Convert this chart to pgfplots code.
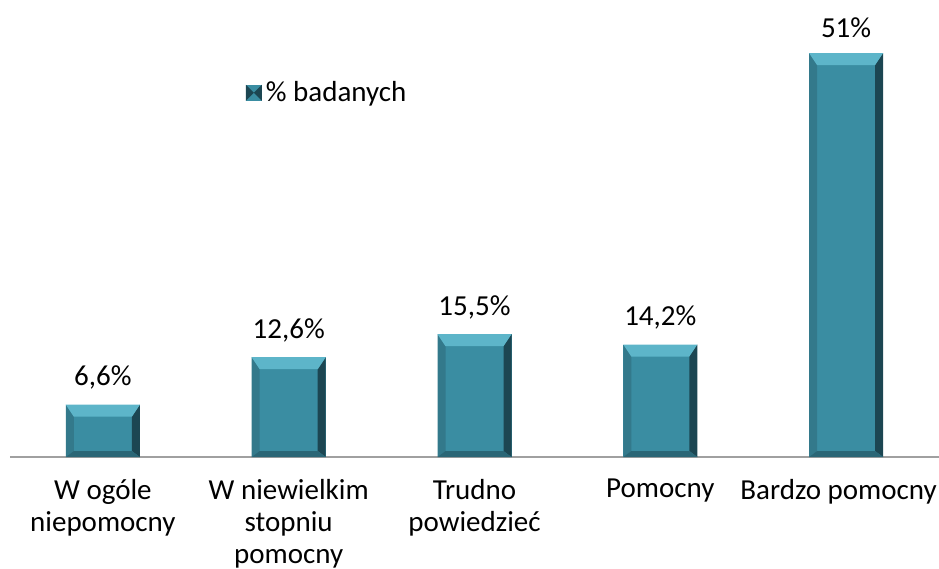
\documentclass[border=0pt]{standalone}
\usepackage{pgfplots}
\pgfplotsset{compat=1.18}
\usepackage{fontspec}
\setmainfont{Carlito}
\definecolor{barmain}{HTML}{3A8DA2}
\definecolor{bartop}{HTML}{5DB5C9}
\definecolor{barleft}{HTML}{33798B}
\definecolor{barright}{HTML}{1C4652}
\definecolor{barbot}{HTML}{2A6676}
\definecolor{axisgray}{HTML}{A0A0A0}
\newcommand\quadfill[9]{%
  \pgfsetfillcolor{#1}%
  \pgfpathmoveto{\pgfpoint{#2}{#3}}%
  \pgfpathlineto{\pgfpoint{#4}{#5}}%
  \pgfpathlineto{\pgfpoint{#6}{#7}}%
  \pgfpathlineto{\pgfpoint{#8}{#9}}%
  \pgfpathclose\pgfusepath{fill}}
\tikzset{
  bevel/.style={path picture={
    \pgfpointanchor{path picture bounding box}{south west}\pgfgetlastxy{\bx}{\by}%
    \pgfpointanchor{path picture bounding box}{north east}\pgfgetlastxy{\ex}{\ey}%
    \quadfill{barleft}{\bx}{\by}{\bx}{\ey}{\bx+4pt}{\ey-6pt}{\bx+4pt}{\by+3pt}%
    \quadfill{barright}{\ex}{\by}{\ex}{\ey}{\ex-4pt}{\ey-6pt}{\ex-4pt}{\by+3pt}%
    \quadfill{bartop}{\bx}{\ey}{\ex}{\ey}{\ex-4pt}{\ey-6pt}{\bx+4pt}{\ey-6pt}%
    \quadfill{barbot}{\bx}{\by}{\ex}{\by}{\ex-4pt}{\by+3pt}{\bx+4pt}{\by+3pt}%
  }},
}
\pgfplotsset{
  mybar/.style={ybar, bar width=37pt, bar shift=0pt, fill=barmain, draw=none, bevel, forget plot},
}
\begin{document}
\begin{tikzpicture}[font=\fontsize{14.5}{16}\selectfont]
\begin{axis}[
  width=464.5pt, height=228.5pt, scale only axis,
  xmin=-0.5, xmax=4.5, ymin=0, ymax=57.7,
  axis x line*=bottom, axis y line=none,
  x axis line style={draw=axisgray, line width=1pt, -},
  xtick={0,1,2,3,4},
  xticklabels={{W ogóle\\niepomocny},{W niewielkim\\stopniu\\pomocny},{Trudno\\powiedzieć},{Pomocny},{\hspace*{-7.5pt}Bardzo pomocny}},
  xticklabel style={align=center, yshift=-7.5pt, text=black},
  major tick length=0pt,
  ytick=\empty,
  clip=false,
  /pgf/number format/assume math mode=true,
  legend style={at={(0.2535,0.797)}, anchor=west, draw=none, fill=none, inner sep=0pt,
    nodes={inner sep=2pt, text=black}},
  legend cell align=left,
]
\addlegendimage{legend image code/.code={
    \quadfill{barmain}{0pt}{-4pt}{0pt}{4pt}{8pt}{4pt}{8pt}{-4pt}%
    \quadfill{barright}{0pt}{-4pt}{4pt}{0pt}{0pt}{4pt}{0pt}{-4pt}%
    \quadfill{barright}{8pt}{-4pt}{4pt}{0pt}{8pt}{4pt}{8pt}{-4pt}%
  }}
\addlegendentry{\% badanych}
\addplot[mybar] coordinates {(0,6.6)};
\addplot[mybar] coordinates {(1,12.6)};
\addplot[mybar] coordinates {(2,15.5)};
\addplot[mybar] coordinates {(3,14.2)};
\addplot[mybar] coordinates {(4,51)};
\addplot[only marks, mark=none, forget plot,
  nodes near coords={\pgfmathprintnumber[fixed,precision=1,use comma,assume math mode=true]{\pgfplotspointmeta}\%},
  every node near coord/.append style={yshift=4pt, text=black}]
  coordinates {(0,6.6) (1,12.6) (2,15.5) (3,14.2) (4,51)};
\coordinate (bbsw) at (rel axis cs:0,0);
\coordinate (bbne) at (rel axis cs:1,1);
\end{axis}
\pgfresetboundingbox
\path[use as bounding box] ([shift={(-5pt,-55.5pt)}]bbsw) rectangle (bbne);
\end{tikzpicture}
\end{document}
